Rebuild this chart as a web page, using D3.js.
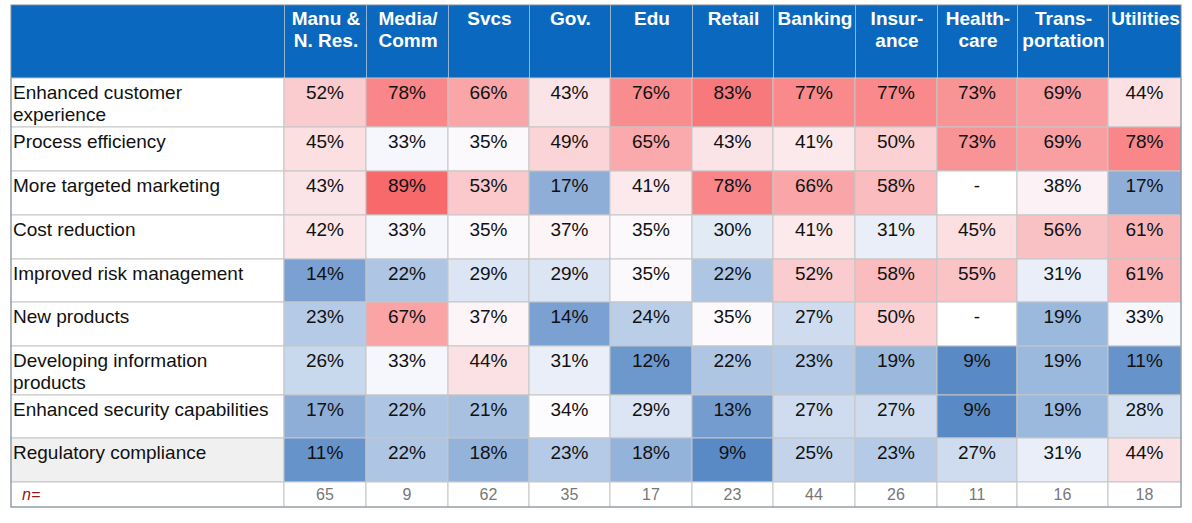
<!DOCTYPE html>
<html>
<head>
<meta charset="utf-8">
<script src="https://cdn.jsdelivr.net/npm/d3@7"></script>
<style>
  body { margin: 0; background: #fff; }
  svg text { font-family: Arial, "Liberation Sans", sans-serif; }
</style>
</head>
<body>
<svg id="chart" width="1192" height="523"></svg>
<script>
/* globals d3 */
var industries = ['Manu &\nN. Res.', 'Media/\nComm', 'Svcs', 'Gov.', 'Edu', 'Retail', 'Banking',
    'Insur-\nance', 'Health-\ncare', 'Trans-\nportation', 'Utilities'];
var drivers = ['Enhanced customer\nexperience', 'Process efficiency', 'More targeted marketing',
    'Cost reduction', 'Improved risk management', 'New products',
    'Developing information\nproducts', 'Enhanced security capabilities', 'Regulatory compliance'];
var customerExperience = [52, 78, 66, 43, 76, 83, 77, 77, 73, 69, 44];
var processEfficiency = [45, 33, 35, 49, 65, 43, 41, 50, 73, 69, 78];
var targetedMarketing = [43, 89, 53, 17, 41, 78, 66, 58, null, 38, 17];
var costReduction = [42, 33, 35, 37, 35, 30, 41, 31, 45, 56, 61];
var riskManagement = [14, 22, 29, 29, 35, 22, 52, 58, 55, 31, 61];
var newProducts = [23, 67, 37, 14, 24, 35, 27, 50, null, 19, 33];
var infoProducts = [26, 33, 44, 31, 12, 22, 23, 19, 9, 19, 11];
var securityCaps = [17, 22, 21, 34, 29, 13, 27, 27, 9, 19, 28];
var regulatory = [11, 22, 18, 23, 18, 9, 25, 23, 27, 31, 44];
var sampleSizes = [65, 9, 62, 35, 17, 23, 44, 26, 11, 16, 18];

(function(d3) {
    'use strict';

    var series = [customerExperience, processEfficiency, targetedMarketing, costReduction,
        riskManagement, newProducts, infoProducts, securityCaps, regulatory];

    // layout
    var left = 11, top = 5, labelW = 273, headH = 73, nRowH = 25,
        colW = [82, 82, 81, 81, 82, 81, 82, 82, 80, 91, 73],
        rowH = [49, 44, 44, 44, 43, 44, 49, 43, 44];

    var colX = [left + labelW].concat(Array.from(d3.cumsum(colW), function(c) { return left + labelW + c; }));
    var rowY = [top + headH].concat(Array.from(d3.cumsum(rowH), function(c) { return top + headH + c; }));

    var x = d3.scaleOrdinal().domain(industries).range(colX.slice(0, -1));
    var y = d3.scaleOrdinal().domain(drivers).range(rowY.slice(0, -1));
    var right = colX[colX.length - 1], bottomY = rowY[rowY.length - 1];

    var all = d3.merge(series).filter(function(v) { return v !== null; });
    var color = d3.scaleLinear()
        .domain([d3.min(all), 34, d3.max(all)])
        .range(['#5a8ac6', '#fcfcff', '#f8696b']);

    var svg = d3.select('#chart');

    // header
    svg.append('rect').attr('x', left).attr('y', top).attr('width', right - left).attr('height', headH)
        .attr('fill', '#0a69be');
    var head = svg.selectAll('g.head').data(industries).enter().append('g').attr('class', 'head');
    head.append('line')
        .attr('x1', function(d) { return x(d) + 0.5; }).attr('x2', function(d) { return x(d) + 0.5; })
        .attr('y1', top).attr('y2', top + headH)
        .attr('stroke', '#93b3d3');
    head.append('text')
        .attr('text-anchor', 'middle')
        .attr('fill', '#fff').attr('font-weight', 'bold').attr('font-size', 19)
        .selectAll('tspan').data(function(d, i) {
            return d.split('\n').map(function(s) { return {t: s, i: i}; });
        })
        .enter().append('tspan')
        .attr('x', function(d) { return colX[d.i] + colW[d.i] / 2 + 1; })
        .attr('y', function(d, j) { return top + 20 + j * 22; })
        .text(function(d) { return d.t; });

    // rows
    var rows = svg.selectAll('g.row').data(drivers).enter().append('g').attr('class', 'row');
    rows.append('rect')
        .attr('x', left).attr('y', function(d) { return y(d); })
        .attr('width', labelW).attr('height', function(d, i) { return rowH[i]; })
        .attr('fill', function(d, i) { return i === drivers.length - 1 ? '#f0f0f0' : '#fff'; })
        .attr('stroke', '#c6c6c6');
    rows.append('text')
        .attr('font-size', 19).attr('fill', '#111')
        .selectAll('tspan').data(function(d) {
            return d.split('\n').map(function(s) { return {t: s, r: d}; });
        })
        .enter().append('tspan')
        .attr('x', left + 2)
        .attr('y', function(d, j) { return y(d.r) + 21 + j * 22; })
        .text(function(d) { return d.t; });

    var cells = rows.selectAll('g.cell').data(function(d, i) {
        return series[i].map(function(v, j) { return {v: v, c: industries[j], r: d, ri: i, ci: j}; });
    }).enter().append('g').attr('class', 'cell');
    cells.append('rect')
        .attr('x', function(d) { return x(d.c); }).attr('y', function(d) { return y(d.r); })
        .attr('width', function(d) { return colW[d.ci]; })
        .attr('height', function(d) { return rowH[d.ri]; })
        .attr('fill', function(d) { return d.v === null ? '#fff' : color(d.v); })
        .attr('stroke', '#c6c6c6');
    cells.append('text')
        .attr('x', function(d) { return x(d.c) + colW[d.ci] / 2; })
        .attr('y', function(d) { return y(d.r) + 21; })
        .attr('text-anchor', 'middle').attr('font-size', 19).attr('fill', '#111')
        .text(function(d) { return d.v === null ? '-' : d.v + '%'; });

    // n row
    svg.append('rect').attr('x', left).attr('y', bottomY).attr('width', labelW).attr('height', nRowH)
        .attr('fill', '#fff').attr('stroke', '#c6c6c6');
    svg.append('text').attr('x', left + 11).attr('y', bottomY + 18)
        .attr('font-size', 16).attr('font-style', 'italic').attr('fill', '#8b1a1a').text('n=');
    var nCells = svg.selectAll('g.n').data(sampleSizes).enter().append('g').attr('class', 'n');
    nCells.append('rect')
        .attr('x', function(d, i) { return x(industries[i]); }).attr('y', bottomY)
        .attr('width', function(d, i) { return colW[i]; }).attr('height', nRowH)
        .attr('fill', '#fff').attr('stroke', '#c6c6c6');
    nCells.append('text')
        .attr('x', function(d, i) { return x(industries[i]) + colW[i] / 2; })
        .attr('y', bottomY + 18)
        .attr('text-anchor', 'middle').attr('font-size', 16).attr('fill', '#777')
        .text(function(d) { return d; });

    // outer frame
    svg.append('rect').attr('x', left).attr('y', top)
        .attr('width', right - left).attr('height', bottomY + nRowH - top)
        .attr('fill', 'none').attr('stroke', '#7d8a97');
}(d3));
</script>
</body>
</html>
